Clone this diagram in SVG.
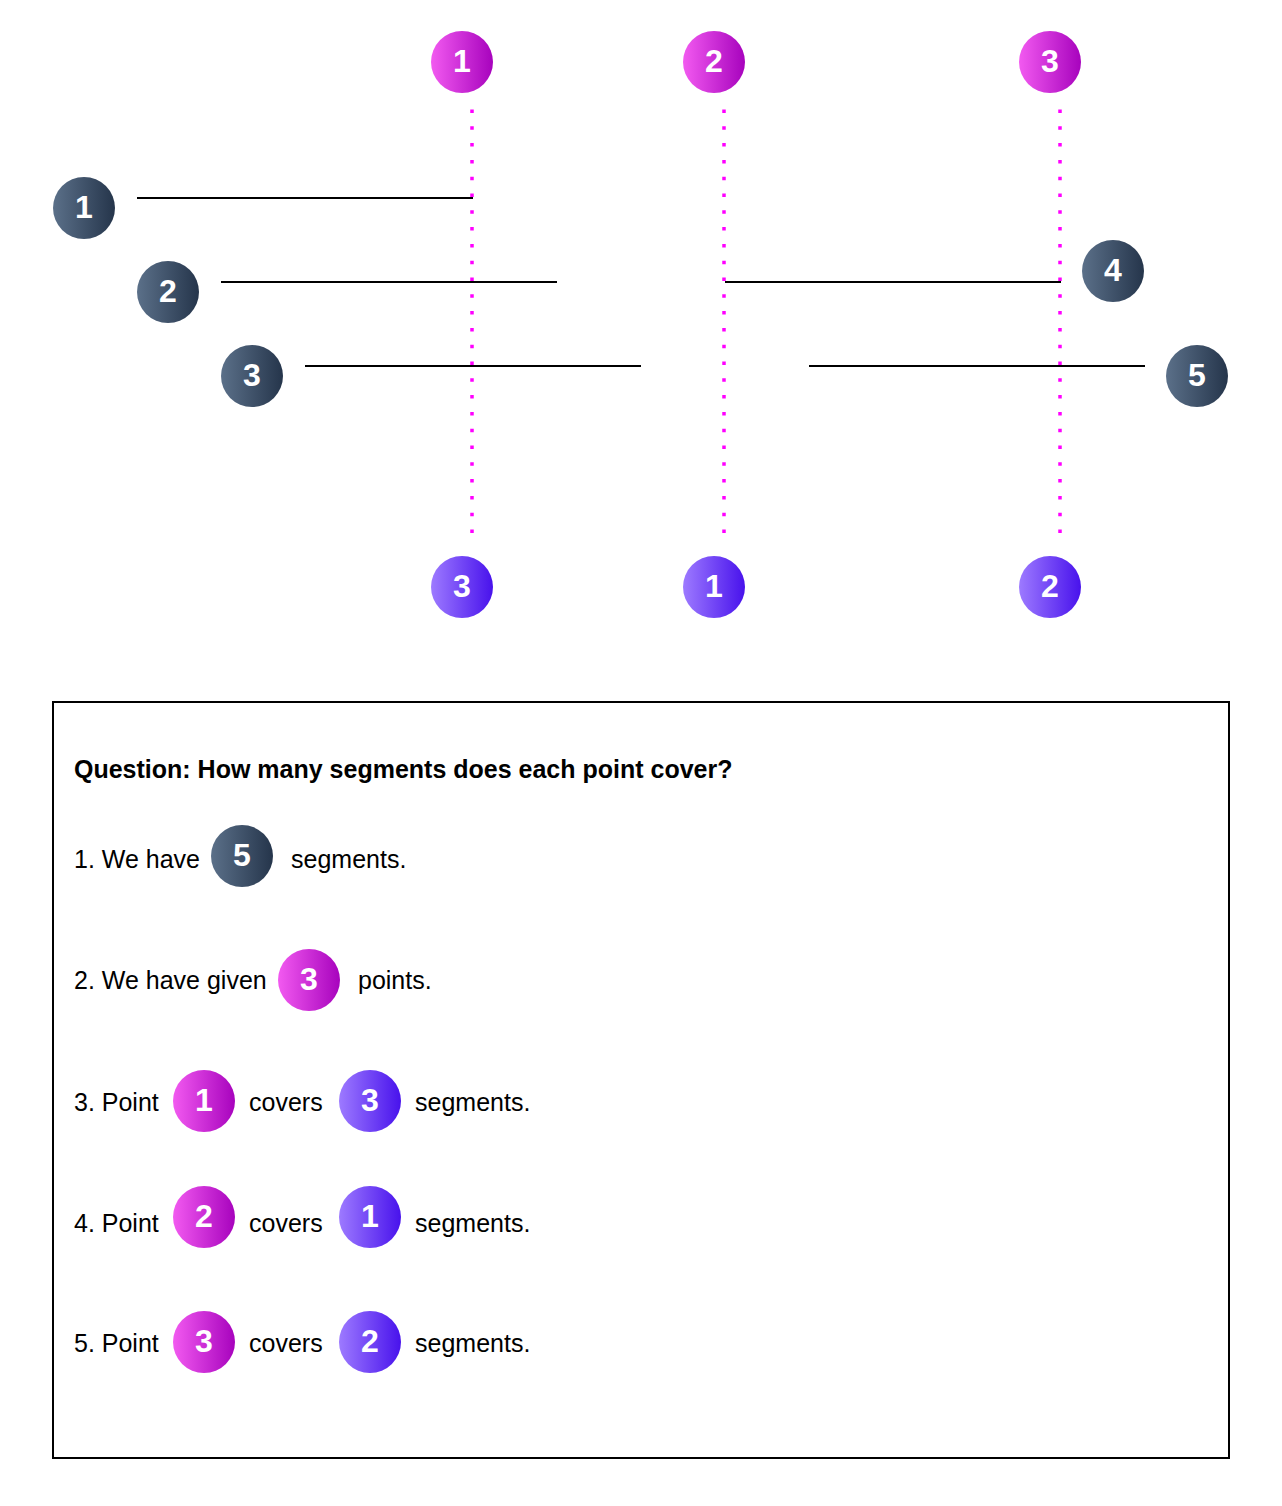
<svg xmlns="http://www.w3.org/2000/svg" width="1282" height="1506" viewBox="0 0 1282 1506">
<defs>
<linearGradient id="gd" x1="0" y1="0" x2="1" y2="0"><stop offset="0" stop-color="#5b7089"/><stop offset="1" stop-color="#25354b"/></linearGradient>
<linearGradient id="gp" x1="0" y1="0" x2="1" y2="0"><stop offset="0" stop-color="#f25af0"/><stop offset="1" stop-color="#a703bd"/></linearGradient>
<linearGradient id="gv" x1="0" y1="0" x2="1" y2="0"><stop offset="0" stop-color="#9d7aff"/><stop offset="1" stop-color="#4812ec"/></linearGradient>
<style>
.d{fill:url(#gd)}.p{fill:url(#gp)}.v{fill:url(#gv)}
.n{font-family:"Liberation Sans",Arial,sans-serif;font-weight:bold;font-size:32px;fill:#fff;text-anchor:middle;dominant-baseline:central}
.t{font-family:"Liberation Sans",Arial,sans-serif;font-size:25px;fill:#000}
.q{font-family:"Liberation Sans",Arial,sans-serif;font-size:25px;font-weight:bold;fill:#000}
.seg{stroke:#000;stroke-width:2;fill:none}
.dot{stroke:#ff00ff;stroke-width:3.5;stroke-dasharray:3.5 13.3;fill:none}
</style>
</defs>
<g id="connectors">
<line class="dot" x1="472" y1="109.5" x2="472" y2="533.5"/>
<line class="dot" x1="724" y1="109.5" x2="724" y2="533.5"/>
<line class="dot" x1="1060" y1="109.5" x2="1060" y2="533.5"/>
<line class="seg" x1="137" y1="198" x2="473" y2="198"/>
<line class="seg" x1="221" y1="282" x2="557" y2="282"/>
<line class="seg" x1="305" y1="366" x2="641" y2="366"/>
<line class="seg" x1="725" y1="282" x2="1061" y2="282"/>
<line class="seg" x1="809" y1="366" x2="1145" y2="366"/>
</g>
<g id="p1"><circle class="p" cx="462" cy="62" r="31"/><text class="n" x="462" y="61">1</text></g>
<g id="p2"><circle class="p" cx="714" cy="62" r="31"/><text class="n" x="714" y="61">2</text></g>
<g id="p3"><circle class="p" cx="1050" cy="62" r="31"/><text class="n" x="1050" y="61">3</text></g>
<g id="c1"><circle class="v" cx="462" cy="587" r="31"/><text class="n" x="462" y="586">3</text></g>
<g id="c2"><circle class="v" cx="714" cy="587" r="31"/><text class="n" x="714" y="586">1</text></g>
<g id="c3"><circle class="v" cx="1050" cy="587" r="31"/><text class="n" x="1050" y="586">2</text></g>
<g id="s1"><circle class="d" cx="84" cy="208" r="31"/><text class="n" x="84" y="207">1</text></g>
<g id="s2"><circle class="d" cx="168" cy="292" r="31"/><text class="n" x="168" y="291">2</text></g>
<g id="s3"><circle class="d" cx="252" cy="376" r="31"/><text class="n" x="252" y="375">3</text></g>
<g id="s4"><circle class="d" cx="1113" cy="271" r="31"/><text class="n" x="1113" y="270">4</text></g>
<g id="s5"><circle class="d" cx="1197" cy="376" r="31"/><text class="n" x="1197" y="375">5</text></g>
<g id="box">
<rect x="53" y="702" width="1176" height="756" fill="#fff" stroke="#000" stroke-width="2"/>
<text class="q" x="74" y="778">Question: How many segments does each point cover?</text>
<text class="t" x="74" y="868">1. We have</text>
<circle class="d" cx="242" cy="856" r="31"/><text class="n" x="242" y="855">5</text>
<text class="t" x="291" y="868">segments.</text>
<text class="t" x="74" y="989">2. We have given</text>
<circle class="p" cx="309" cy="980" r="31"/><text class="n" x="309" y="979">3</text>
<text class="t" x="358" y="989">points.</text>
<text class="t" x="74" y="1111">3. Point</text>
<circle class="p" cx="204" cy="1101" r="31"/><text class="n" x="204" y="1100">1</text>
<text class="t" x="249" y="1111">covers</text>
<circle class="v" cx="370" cy="1101" r="31"/><text class="n" x="370" y="1100">3</text>
<text class="t" x="415" y="1111">segments.</text>
<text class="t" x="74" y="1232">4. Point</text>
<circle class="p" cx="204" cy="1217" r="31"/><text class="n" x="204" y="1216">2</text>
<text class="t" x="249" y="1232">covers</text>
<circle class="v" cx="370" cy="1217" r="31"/><text class="n" x="370" y="1216">1</text>
<text class="t" x="415" y="1232">segments.</text>
<text class="t" x="74" y="1352">5. Point</text>
<circle class="p" cx="204" cy="1342" r="31"/><text class="n" x="204" y="1341">3</text>
<text class="t" x="249" y="1352">covers</text>
<circle class="v" cx="370" cy="1342" r="31"/><text class="n" x="370" y="1341">2</text>
<text class="t" x="415" y="1352">segments.</text>
</g>
</svg>
